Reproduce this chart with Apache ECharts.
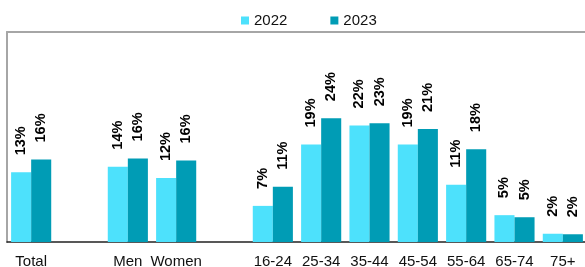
<!DOCTYPE html>
<html>
<head>
<meta charset="utf-8">
<script src="https://cdn.jsdelivr.net/npm/echarts@6/dist/echarts.min.js"></script>
<style>
  html, body { margin: 0; padding: 0; background: #fff; }
  #chart { width: 585px; height: 267px; }
</style>
</head>
<body>
<div id="chart"></div>
<script>
var categories = ['Total', '', 'Men', 'Women', '', '16-24', '25-34', '35-44', '45-54', '55-64', '65-74', '75+'];
// bar heights (percent), '-' = empty slot
var values2022 = [13.5, '-', 14.6, 12.4, '-', 7.0, 18.9, 22.6, 18.9, 11.1, 5.2, 1.6];
var values2023 = [16.0, '-', 16.2, 15.8, '-', 10.7, 24.0, 23.0, 21.9, 18.0, 4.8, 1.5];
// printed labels
var labels2022 = ['13%', '', '14%', '12%', '', '7%', '19%', '22%', '19%', '11%', '5%', '2%'];
var labels2023 = ['16%', '', '16%', '16%', '', '11%', '24%', '23%', '21%', '18%', '5%', '2%'];

var chart = echarts.init(document.getElementById('chart'));

var barLabel = function(texts) {
    return {
        show: true,
        position: 'top',
        distance: 17,
        rotate: 90,
        align: 'left',
        verticalAlign: 'middle',
        color: '#000',
        fontFamily: 'Liberation Sans',
        fontWeight: 'bold',
        fontSize: 14.5,
        formatter: function(p) { return texts[p.dataIndex]; }
    };
};

chart.setOption({
    animation: false,
    legend: {
        top: 8,
        left: 236,
        itemWidth: 8,
        itemHeight: 8,
        itemGap: 43,
        icon: 'rect',
        textStyle: { color: '#111', fontSize: 15, fontFamily: 'Liberation Sans' },
        data: ['2022', '2023']
    },
    grid: {
        left: 7,
        right: -2,
        top: 32,
        bottom: 25,
        outerBoundsMode: 'none'
    },
    xAxis: [{
        type: 'category',
        data: categories,
        axisLine: { lineStyle: { color: '#222', width: 1.5 } },
        axisTick: { length: 5, lineStyle: { color: '#222' } },
        axisLabel: {
            color: '#111',
            fontSize: 15,
            fontFamily: 'Liberation Sans',
            margin: 12,
            interval: 0
        }
    }, {
        // grey frame line along the top
        type: 'category',
        position: 'top',
        data: categories,
        axisLine: { lineStyle: { color: '#a6a6a6', width: 2 } },
        axisTick: { show: false },
        axisLabel: { show: false }
    }],
    yAxis: {
        type: 'value',
        min: 0,
        max: 40.7,
        axisLine: { show: true, lineStyle: { color: '#a6a6a6', width: 2 } },
        axisTick: { show: false },
        axisLabel: { show: false },
        splitLine: { show: false }
    },
    series: [{
        name: '2022',
        type: 'bar',
        data: values2022,
        barGap: '0%',
        barCategoryGap: '17%',
        itemStyle: { color: '#4de1fc' },
        label: barLabel(labels2022)
    }, {
        name: '2023',
        type: 'bar',
        data: values2023,
        itemStyle: { color: '#009cb5' },
        label: barLabel(labels2023)
    }]
});
</script>
</body>
</html>
